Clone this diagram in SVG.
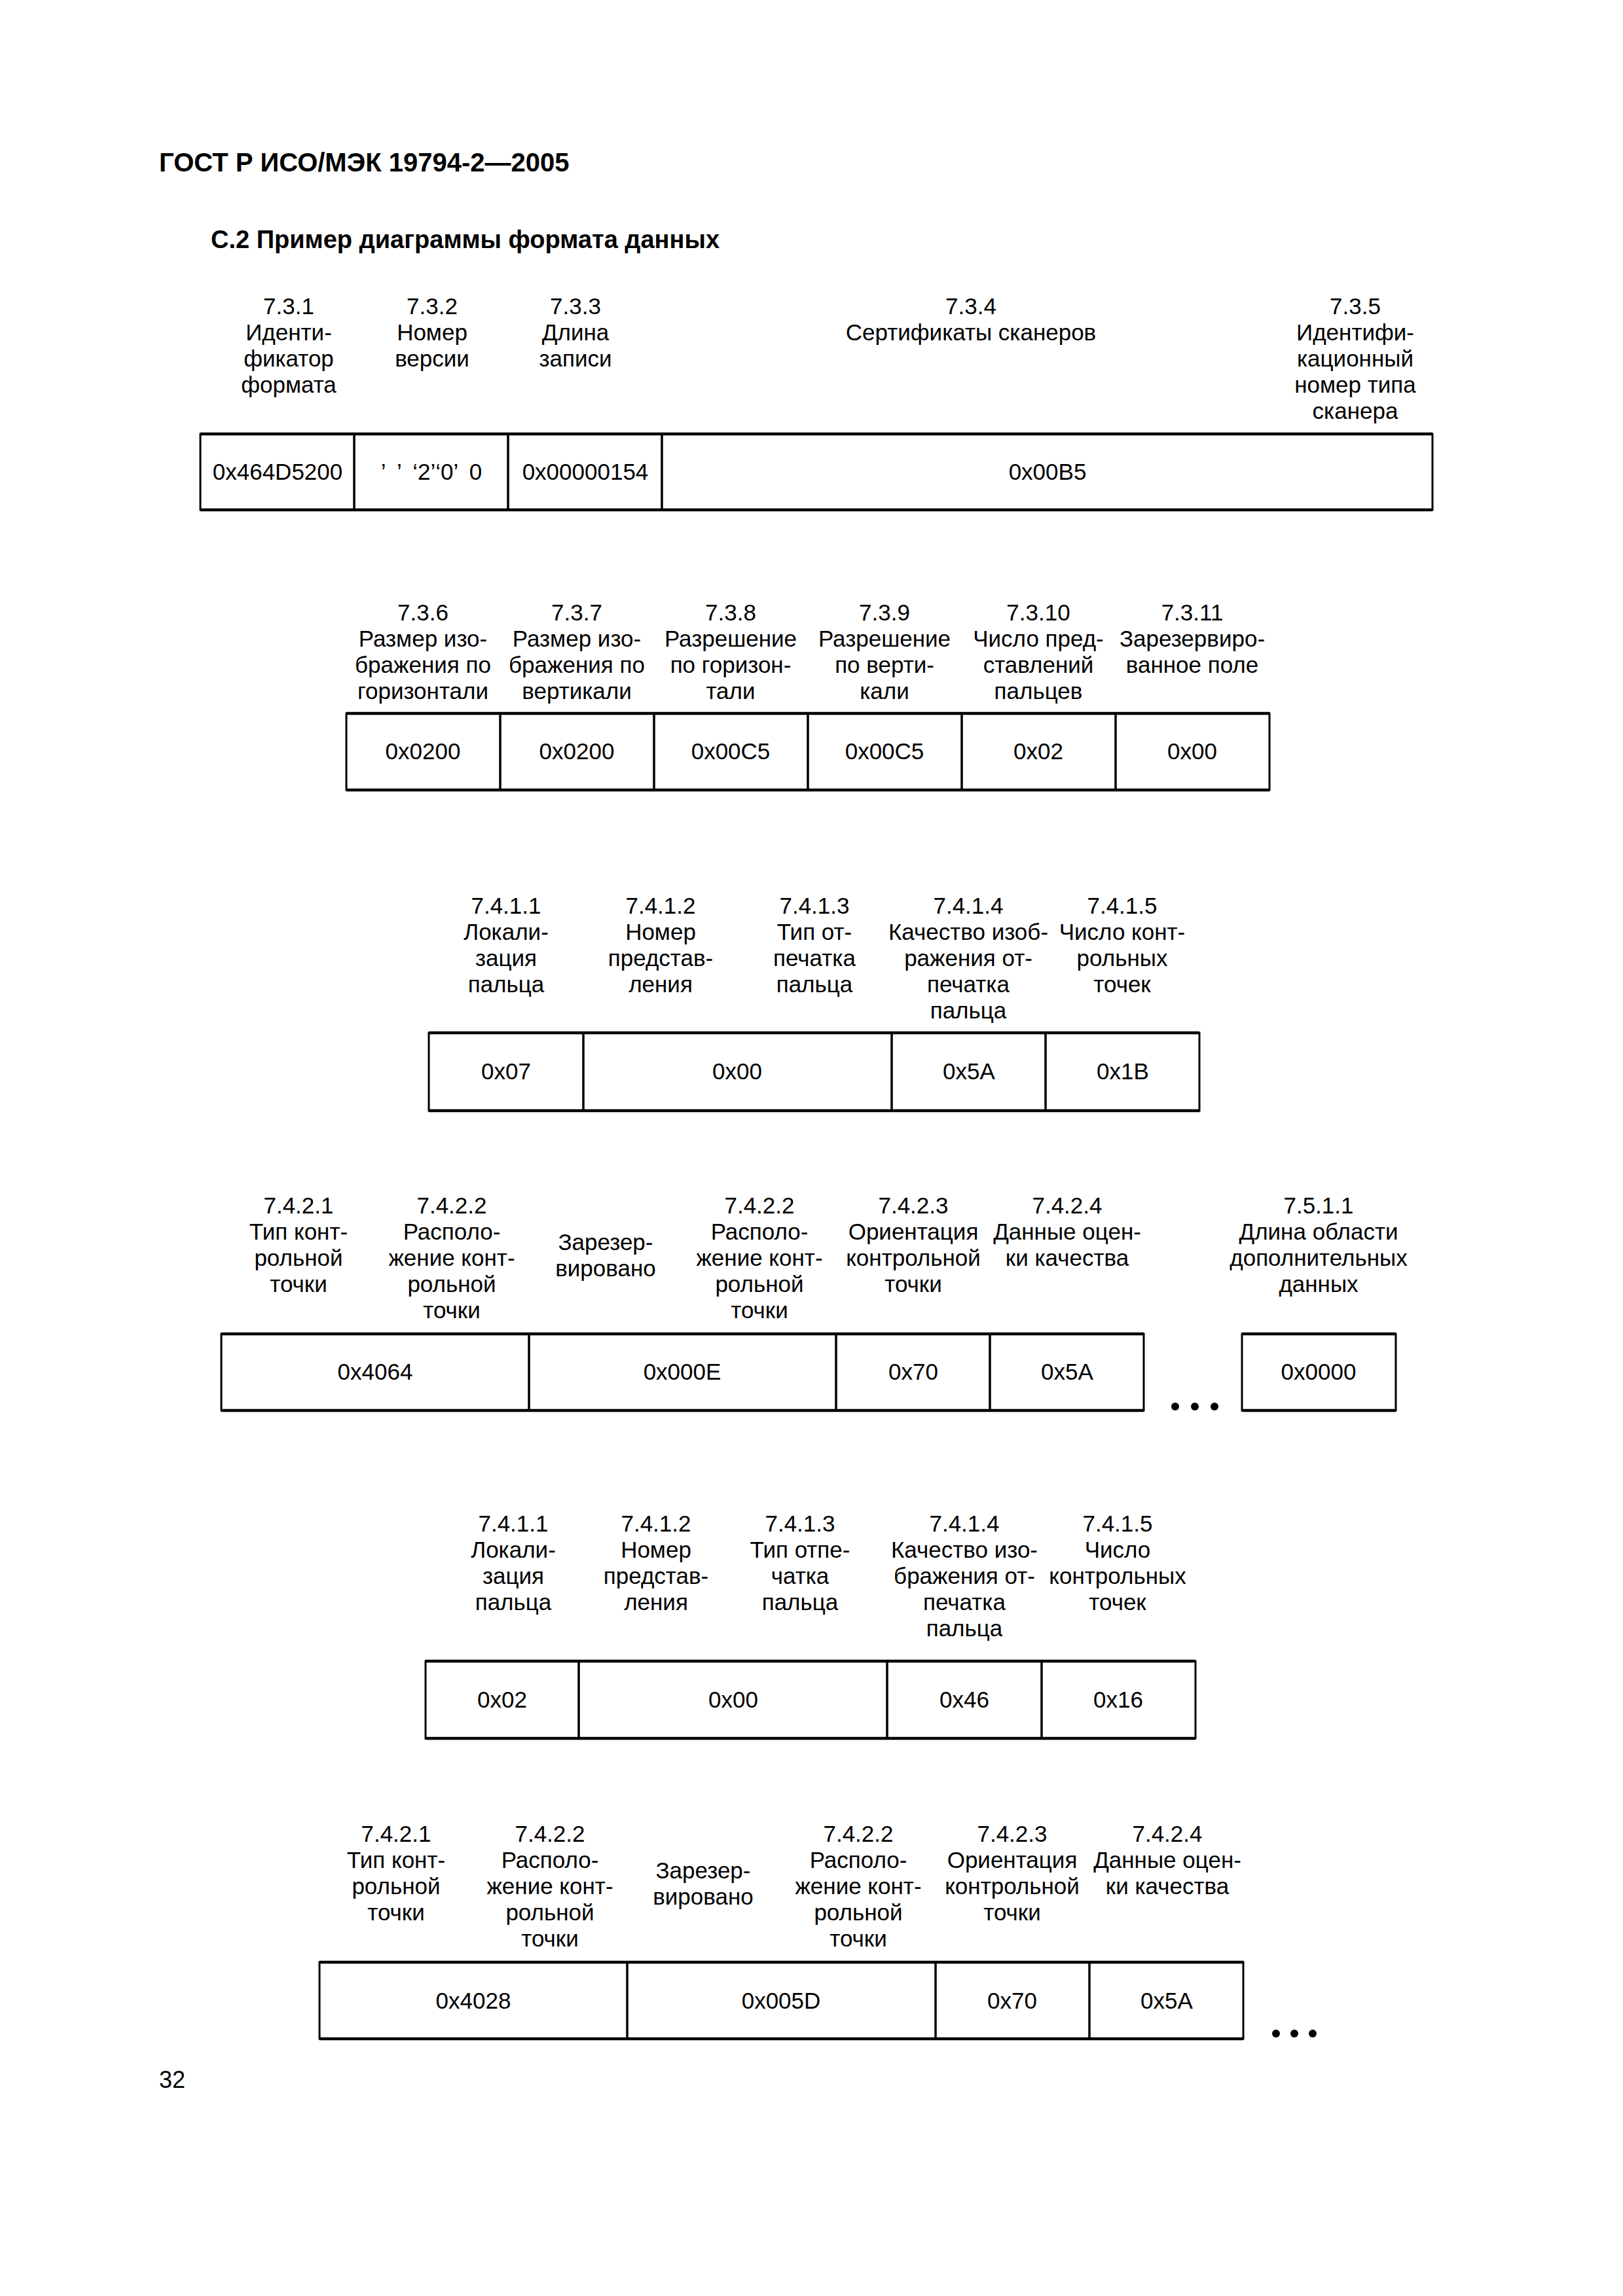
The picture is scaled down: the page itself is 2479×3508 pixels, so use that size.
<svg xmlns="http://www.w3.org/2000/svg" width="2479" height="3508" viewBox="0 0 2479 3508">
<style>
.t{font-family:"Liberation Sans",Arial,sans-serif;font-size:35px;text-anchor:middle;fill:#000}
.h{font-family:"Liberation Sans",Arial,sans-serif;font-weight:bold;fill:#000}
.pn{font-family:"Liberation Sans",Arial,sans-serif;font-size:36px;fill:#000}
.c{fill:none;stroke:#000;stroke-width:3}
.hl{stroke:#000;stroke-width:4.5}
.dot{fill:#000}
</style>
<rect width="2479" height="3508" fill="#fff"/>
<text class="h" x="243" y="262" font-size="40">ГОСТ Р ИСО/МЭК 19794-2—2005</text>
<text class="h" x="322" y="379" font-size="38">С.2 Пример диаграммы формата данных</text>

<!-- Row 1 -->
<g id="row1-labels">
<g id="l-7.3.1"><text class="t" x="441" y="480">7.3.1<tspan x="441" dy="40">Иденти-</tspan><tspan x="441" dy="40">фикатор</tspan><tspan x="441" dy="40">формата</tspan></text></g>
<g id="l-7.3.2"><text class="t" x="660" y="480">7.3.2<tspan x="660" dy="40">Номер</tspan><tspan x="660" dy="40">версии</tspan></text></g>
<g id="l-7.3.3"><text class="t" x="879" y="480">7.3.3<tspan x="879" dy="40">Длина</tspan><tspan x="879" dy="40">записи</tspan></text></g>
<g id="l-7.3.4"><text class="t" x="1483" y="480">7.3.4<tspan x="1483" dy="40">Сертификаты сканеров</tspan></text></g>
<g id="l-7.3.5"><text class="t" x="2070" y="480">7.3.5<tspan x="2070" dy="40">Идентифи-</tspan><tspan x="2070" dy="40">кационный</tspan><tspan x="2070" dy="40">номер типа</tspan><tspan x="2070" dy="40">сканера</tspan></text></g>
</g>
<g id="row1">
<g id="r1c1"><rect class="c" x="306" y="663" width="235" height="116"/><text class="t" x="424" y="733">0x464D5200</text></g>
<g id="r1c2"><rect class="c" x="541" y="663" width="235" height="116"/><text class="t" x="659" y="733" word-spacing="8">’ ’ ‘2’‘0’ 0</text></g>
<g id="r1c3"><rect class="c" x="776" y="663" width="235" height="116"/><text class="t" x="894" y="733">0x00000154</text></g>
<g id="r1c4"><rect class="c" x="1011" y="663" width="1177" height="116"/><text class="t" x="1600" y="733">0x00B5</text></g>
<line class="hl" x1="306" y1="663" x2="2188" y2="663"/><line class="hl" x1="306" y1="779" x2="2188" y2="779"/>
</g>

<!-- Row 2 -->
<g id="row2-labels">
<g id="l-7.3.6"><text class="t" x="646" y="948">7.3.6<tspan x="646" dy="40">Размер изо-</tspan><tspan x="646" dy="40">бражения по</tspan><tspan x="646" dy="40">горизонтали</tspan></text></g>
<g id="l-7.3.7"><text class="t" x="881" y="948">7.3.7<tspan x="881" dy="40">Размер изо-</tspan><tspan x="881" dy="40">бражения по</tspan><tspan x="881" dy="40">вертикали</tspan></text></g>
<g id="l-7.3.8"><text class="t" x="1116" y="948">7.3.8<tspan x="1116" dy="40">Разрешение</tspan><tspan x="1116" dy="40">по горизон-</tspan><tspan x="1116" dy="40">тали</tspan></text></g>
<g id="l-7.3.9"><text class="t" x="1351" y="948">7.3.9<tspan x="1351" dy="40">Разрешение</tspan><tspan x="1351" dy="40">по верти-</tspan><tspan x="1351" dy="40">кали</tspan></text></g>
<g id="l-7.3.10"><text class="t" x="1586" y="948">7.3.10<tspan x="1586" dy="40">Число пред-</tspan><tspan x="1586" dy="40">ставлений</tspan><tspan x="1586" dy="40">пальцев</tspan></text></g>
<g id="l-7.3.11"><text class="t" x="1821" y="948">7.3.11<tspan x="1821" dy="40">Зарезервиро-</tspan><tspan x="1821" dy="40">ванное поле</tspan></text></g>
</g>
<g id="row2">
<g id="r2c1"><rect class="c" x="529" y="1090" width="235" height="117"/><text class="t" x="646" y="1160">0x0200</text></g>
<g id="r2c2"><rect class="c" x="764" y="1090" width="235" height="117"/><text class="t" x="881" y="1160">0x0200</text></g>
<g id="r2c3"><rect class="c" x="999" y="1090" width="235" height="117"/><text class="t" x="1116" y="1160">0x00C5</text></g>
<g id="r2c4"><rect class="c" x="1234" y="1090" width="235" height="117"/><text class="t" x="1351" y="1160">0x00C5</text></g>
<g id="r2c5"><rect class="c" x="1469" y="1090" width="235" height="117"/><text class="t" x="1586" y="1160">0x02</text></g>
<g id="r2c6"><rect class="c" x="1704" y="1090" width="235" height="117"/><text class="t" x="1821" y="1160">0x00</text></g>
<line class="hl" x1="529" y1="1090" x2="1939" y2="1090"/><line class="hl" x1="529" y1="1207" x2="1939" y2="1207"/>
</g>

<!-- Row 3 -->
<g id="row3-labels">
<g id="l3-7.4.1.1"><text class="t" x="773" y="1396">7.4.1.1<tspan x="773" dy="40">Локали-</tspan><tspan x="773" dy="40">зация</tspan><tspan x="773" dy="40">пальца</tspan></text></g>
<g id="l3-7.4.1.2"><text class="t" x="1009" y="1396">7.4.1.2<tspan x="1009" dy="40">Номер</tspan><tspan x="1009" dy="40">представ-</tspan><tspan x="1009" dy="40">ления</tspan></text></g>
<g id="l3-7.4.1.3"><text class="t" x="1244" y="1396">7.4.1.3<tspan x="1244" dy="40">Тип от-</tspan><tspan x="1244" dy="40">печатка</tspan><tspan x="1244" dy="40">пальца</tspan></text></g>
<g id="l3-7.4.1.4"><text class="t" x="1479" y="1396">7.4.1.4<tspan x="1479" dy="40">Качество изоб-</tspan><tspan x="1479" dy="40">ражения от-</tspan><tspan x="1479" dy="40">печатка</tspan><tspan x="1479" dy="40">пальца</tspan></text></g>
<g id="l3-7.4.1.5"><text class="t" x="1714" y="1396">7.4.1.5<tspan x="1714" dy="40">Число конт-</tspan><tspan x="1714" dy="40">рольных</tspan><tspan x="1714" dy="40">точек</tspan></text></g>
</g>
<g id="row3">
<g id="r3c1"><rect class="c" x="655" y="1578" width="236" height="119"/><text class="t" x="773" y="1649">0x07</text></g>
<g id="r3c2"><rect class="c" x="891" y="1578" width="471" height="119"/><text class="t" x="1126" y="1649">0x00</text></g>
<g id="r3c3"><rect class="c" x="1362" y="1578" width="235" height="119"/><text class="t" x="1480" y="1649">0x5A</text></g>
<g id="r3c4"><rect class="c" x="1597" y="1578" width="235" height="119"/><text class="t" x="1715" y="1649">0x1B</text></g>
<line class="hl" x1="655" y1="1578" x2="1832" y2="1578"/><line class="hl" x1="655" y1="1697" x2="1832" y2="1697"/>
</g>

<!-- Row 4 -->
<g id="row4-labels">
<g id="l4-7.4.2.1"><text class="t" x="456" y="1854">7.4.2.1<tspan x="456" dy="40">Тип конт-</tspan><tspan x="456" dy="40">рольной</tspan><tspan x="456" dy="40">точки</tspan></text></g>
<g id="l4-7.4.2.2a"><text class="t" x="690" y="1854">7.4.2.2<tspan x="690" dy="40">Располо-</tspan><tspan x="690" dy="40">жение конт-</tspan><tspan x="690" dy="40">рольной</tspan><tspan x="690" dy="40">точки</tspan></text></g>
<g id="l4-res"><text class="t" x="925" y="1910">Зарезер-<tspan x="925" dy="40">вировано</tspan></text></g>
<g id="l4-7.4.2.2b"><text class="t" x="1160" y="1854">7.4.2.2<tspan x="1160" dy="40">Располо-</tspan><tspan x="1160" dy="40">жение конт-</tspan><tspan x="1160" dy="40">рольной</tspan><tspan x="1160" dy="40">точки</tspan></text></g>
<g id="l4-7.4.2.3"><text class="t" x="1395" y="1854">7.4.2.3<tspan x="1395" dy="40">Ориентация</tspan><tspan x="1395" dy="40">контрольной</tspan><tspan x="1395" dy="40">точки</tspan></text></g>
<g id="l4-7.4.2.4"><text class="t" x="1630" y="1854">7.4.2.4<tspan x="1630" dy="40">Данные оцен-</tspan><tspan x="1630" dy="40">ки качества</tspan></text></g>
<g id="l4-7.5.1.1"><text class="t" x="2014" y="1854">7.5.1.1<tspan x="2014" dy="40">Длина области</tspan><tspan x="2014" dy="40">дополнительных</tspan><tspan x="2014" dy="40">данных</tspan></text></g>
</g>
<g id="row4">
<g id="r4c1"><rect class="c" x="338" y="2038" width="470" height="117"/><text class="t" x="573" y="2108">0x4064</text></g>
<g id="r4c2"><rect class="c" x="808" y="2038" width="469" height="117"/><text class="t" x="1042" y="2108">0x000E</text></g>
<g id="r4c3"><rect class="c" x="1277" y="2038" width="235" height="117"/><text class="t" x="1395" y="2108">0x70</text></g>
<g id="r4c4"><rect class="c" x="1512" y="2038" width="235" height="117"/><text class="t" x="1630" y="2108">0x5A</text></g>
<line class="hl" x1="338" y1="2038" x2="1747" y2="2038"/><line class="hl" x1="338" y1="2155" x2="1747" y2="2155"/>
</g>
<g id="row4-dots"><circle class="dot" cx="1795" cy="2149" r="6"/><circle class="dot" cx="1825" cy="2149" r="6"/><circle class="dot" cx="1855" cy="2149" r="6"/></g>
<g id="r4-ext"><rect class="c" x="1897" y="2038" width="235" height="117"/><line class="hl" x1="1897" y1="2038" x2="2132" y2="2038"/><line class="hl" x1="1897" y1="2155" x2="2132" y2="2155"/><text class="t" x="2014" y="2108">0x0000</text></g>

<!-- Row 5 -->
<g id="row5-labels">
<g id="l5-7.4.1.1"><text class="t" x="784" y="2340">7.4.1.1<tspan x="784" dy="40">Локали-</tspan><tspan x="784" dy="40">зация</tspan><tspan x="784" dy="40">пальца</tspan></text></g>
<g id="l5-7.4.1.2"><text class="t" x="1002" y="2340">7.4.1.2<tspan x="1002" dy="40">Номер</tspan><tspan x="1002" dy="40">представ-</tspan><tspan x="1002" dy="40">ления</tspan></text></g>
<g id="l5-7.4.1.3"><text class="t" x="1222" y="2340">7.4.1.3<tspan x="1222" dy="40">Тип отпе-</tspan><tspan x="1222" dy="40">чатка</tspan><tspan x="1222" dy="40">пальца</tspan></text></g>
<g id="l5-7.4.1.4"><text class="t" x="1473" y="2340">7.4.1.4<tspan x="1473" dy="40">Качество изо-</tspan><tspan x="1473" dy="40">бражения от-</tspan><tspan x="1473" dy="40">печатка</tspan><tspan x="1473" dy="40">пальца</tspan></text></g>
<g id="l5-7.4.1.5"><text class="t" x="1707" y="2340">7.4.1.5<tspan x="1707" dy="40">Число</tspan><tspan x="1707" dy="40">контрольных</tspan><tspan x="1707" dy="40">точек</tspan></text></g>
</g>
<g id="row5">
<g id="r5c1"><rect class="c" x="650" y="2538" width="234" height="118"/><text class="t" x="767" y="2609">0x02</text></g>
<g id="r5c2"><rect class="c" x="884" y="2538" width="471" height="118"/><text class="t" x="1120" y="2609">0x00</text></g>
<g id="r5c3"><rect class="c" x="1355" y="2538" width="236" height="118"/><text class="t" x="1473" y="2609">0x46</text></g>
<g id="r5c4"><rect class="c" x="1591" y="2538" width="235" height="118"/><text class="t" x="1708" y="2609">0x16</text></g>
<line class="hl" x1="650" y1="2538" x2="1826" y2="2538"/><line class="hl" x1="650" y1="2656" x2="1826" y2="2656"/>
</g>

<!-- Row 6 -->
<g id="row6-labels">
<g id="l6-7.4.2.1"><text class="t" x="605" y="2814">7.4.2.1<tspan x="605" dy="40">Тип конт-</tspan><tspan x="605" dy="40">рольной</tspan><tspan x="605" dy="40">точки</tspan></text></g>
<g id="l6-7.4.2.2a"><text class="t" x="840" y="2814">7.4.2.2<tspan x="840" dy="40">Располо-</tspan><tspan x="840" dy="40">жение конт-</tspan><tspan x="840" dy="40">рольной</tspan><tspan x="840" dy="40">точки</tspan></text></g>
<g id="l6-res"><text class="t" x="1074" y="2870">Зарезер-<tspan x="1074" dy="40">вировано</tspan></text></g>
<g id="l6-7.4.2.2b"><text class="t" x="1311" y="2814">7.4.2.2<tspan x="1311" dy="40">Располо-</tspan><tspan x="1311" dy="40">жение конт-</tspan><tspan x="1311" dy="40">рольной</tspan><tspan x="1311" dy="40">точки</tspan></text></g>
<g id="l6-7.4.2.3"><text class="t" x="1546" y="2814">7.4.2.3<tspan x="1546" dy="40">Ориентация</tspan><tspan x="1546" dy="40">контрольной</tspan><tspan x="1546" dy="40">точки</tspan></text></g>
<g id="l6-7.4.2.4"><text class="t" x="1783" y="2814">7.4.2.4<tspan x="1783" dy="40">Данные оцен-</tspan><tspan x="1783" dy="40">ки качества</tspan></text></g>
</g>
<g id="row6">
<g id="r6c1"><rect class="c" x="488" y="2998" width="470" height="117"/><text class="t" x="723" y="3069">0x4028</text></g>
<g id="r6c2"><rect class="c" x="958" y="2998" width="471" height="117"/><text class="t" x="1193" y="3069">0x005D</text></g>
<g id="r6c3"><rect class="c" x="1429" y="2998" width="235" height="117"/><text class="t" x="1546" y="3069">0x70</text></g>
<g id="r6c4"><rect class="c" x="1664" y="2998" width="235" height="117"/><text class="t" x="1782" y="3069">0x5A</text></g>
<line class="hl" x1="488" y1="2998" x2="1899" y2="2998"/><line class="hl" x1="488" y1="3115" x2="1899" y2="3115"/>
</g>
<g id="row6-dots"><circle class="dot" cx="1949" cy="3107" r="6"/><circle class="dot" cx="1977" cy="3107" r="6"/><circle class="dot" cx="2005" cy="3107" r="6"/></g>

<g id="connectors"/>
<text class="pn" x="243" y="3190">32</text>
</svg>
